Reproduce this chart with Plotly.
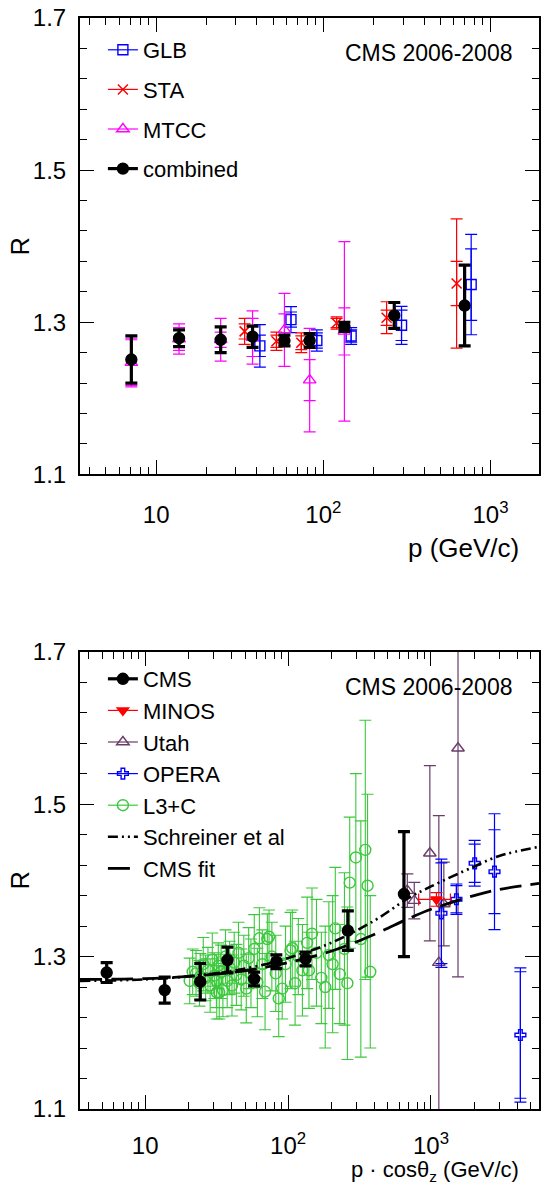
import numpy as np
import plotly.graph_objects as go

# ---------------- top panel data (R vs p) ----------------
comb_p = [7.1, 13.7, 24.3, 37.7, 58.5, 82.8, 133.6, 265.6, 700]
comb_R = [1.251, 1.279, 1.277, 1.281, 1.276, 1.276, 1.294, 1.309, 1.322]
comb_err = [0.031, 0.011, 0.017, 0.014, 0.007, 0.009, 0.006, 0.017, 0.053]

sta_p = [33.8, 52.4, 73.8, 120, 239, 627]
sta_R = [1.288, 1.275, 1.273, 1.299, 1.306, 1.351]
sta_err_tot = [0.017, 0.012, 0.013, 0.008, 0.021, 0.085]
sta_err_stat = [0.010, 0.008, 0.009, 0.006, 0.010, 0.029]

glb_p = [41.7, 64.0, 91.4, 146.6, 293.5, 766]
glb_R = [1.269, 1.3035, 1.276, 1.282, 1.296, 1.3496]
glb_err_tot = [0.028, 0.017, 0.014, 0.011, 0.025, 0.066]
glb_err_stat = [0.014, 0.010, 0.010, 0.008, 0.020, 0.047]

mtcc_p = [7.1, 13.7, 24.3, 37.7, 58.5, 82.8, 133.6]
mtcc_R = [1.247, 1.278, 1.277, 1.280, 1.290, 1.224, 1.288]
mtcc_err_tot = [0.032, 0.020, 0.028, 0.035, 0.048, 0.068, 0.118]
mtcc_err_stat = [0.030, 0.015, 0.010, 0.025, 0.021, 0.027, 0.031]

# ---------------- bottom panel data (R vs p cos theta) ----------------
cms_x = [5.38, 13.7, 24.3, 37.7, 57.9, 82.8, 132.6, 262, 647]
cms_R = [1.279, 1.256, 1.267, 1.2955, 1.2706, 1.2933, 1.2969, 1.334, 1.382]
cms_err = [0.013, 0.017, 0.024, 0.017, 0.009, 0.009, 0.009, 0.026, 0.082]

minos_x = [1092]
minos_R = [1.375]
minos_xerr_hi = [276]
minos_xerr_lo = [272]
minos_err = [0.009]

utah_x = [683, 764, 982, 1135, 1230, 1546]
utah_R = [1.3865, 1.3734, 1.4356, 1.292, 1.369, 1.5733]
utah_err = [0.022, 0.024, 0.115, 0.193, 0.055, 0.300]

opera_x = [1183, 1507, 2021, 2783, 4223]
opera_R = [1.3568, 1.3752, 1.4224, 1.4114, 1.1971]
opera_err_tot = [0.071, 0.020, 0.030, 0.076, 0.088]
opera_err_stat = [0.066, 0.018, 0.025, 0.055, 0.083]

l3c_x = [20.5, 21.5, 22.7, 24.0, 24.3, 25.5, 26.5, 27.5, 28.5, 29.5, 30.5, 31.5, 31.7,
         32.5, 33.0, 34.0, 35.0, 36.5, 37.5, 39.0, 40.5, 42.0, 43.5, 45.0, 47.0, 49.0,
         51.0, 53.0, 55.0, 58.0, 61.0, 63.0, 66.0, 69.0, 71.6, 73.6, 77.0, 82.0, 86.0,
         91.0, 96.0, 104, 107, 112, 118, 126, 136, 140, 147, 158, 171, 182, 193, 205,
         214, 230, 248, 260, 270, 298, 323, 347, 360, 376]
l3c_R = [1.268, 1.280, 1.278, 1.265, 1.274, 1.290, 1.272, 1.282, 1.262, 1.296, 1.275, 1.268, 1.253,
         1.288, 1.253, 1.280, 1.256, 1.300, 1.268, 1.285, 1.262, 1.292, 1.276, 1.305, 1.270, 1.288,
         1.258, 1.298, 1.278, 1.310, 1.266, 1.324, 1.290, 1.254, 1.323, 1.326, 1.300, 1.278, 1.245,
         1.258, 1.290, 1.308, 1.311, 1.265, 1.300, 1.282, 1.318, 1.282, 1.330, 1.305, 1.272, 1.260,
         1.302, 1.290, 1.337, 1.277, 1.310, 1.265, 1.397, 1.430, 1.323, 1.440, 1.393, 1.280]
l3c_err = [0.030, 0.030, 0.030, 0.030, 0.030, 0.035, 0.030, 0.030, 0.035, 0.035, 0.030, 0.035, 0.035,
           0.030, 0.035, 0.035, 0.035, 0.035, 0.035, 0.035, 0.040, 0.040, 0.040, 0.040, 0.040, 0.040,
           0.045, 0.040, 0.045, 0.045, 0.045, 0.040, 0.045, 0.050, 0.033, 0.035, 0.045, 0.050, 0.050,
           0.040, 0.050, 0.050, 0.050, 0.055, 0.050, 0.060, 0.060, 0.050, 0.060, 0.070, 0.060, 0.080,
           0.070, 0.090, 0.080, 0.065, 0.100, 0.100, 0.086, 0.110, 0.155, 0.170, 0.120, 0.100]

fit_x = [3.5, 10, 20, 40, 70, 100, 200, 400, 700, 1000, 2000, 3000, 5700]
fit_R = [1.270, 1.271, 1.274, 1.279, 1.286, 1.292, 1.307, 1.329, 1.350, 1.362, 1.380, 1.388, 1.396]
schr_R = [1.268, 1.270, 1.274, 1.281, 1.290, 1.298, 1.318, 1.347, 1.377, 1.392, 1.418, 1.432, 1.444]

# ---------------- styling ----------------
FONT = "Liberation Sans, Arial, Helvetica, sans-serif"
BLUE = "#0000ff"
RED = "#ff0000"
MAG = "#ff00ff"
PURP = "rgb(105,60,105)"
GREEN = "rgb(60,200,60)"

fig = go.Figure()


def err_trace(x, y, e, color, symbol, size, xa, ya, thick=1.2, cap=6, ex=None, exm=None, mlw=1.4):
    mk = dict(symbol=symbol, size=size, color=color, line=dict(color=color, width=mlw))
    t = go.Scatter(x=x, y=y, mode="markers", marker=mk, xaxis=xa, yaxis=ya, showlegend=False,
                   error_y=dict(type="data", array=e, visible=True, color=color,
                                thickness=thick, width=cap),
                   hoverinfo="skip")
    if ex is not None:
        t.error_x = dict(type="data", array=ex, arrayminus=exm, visible=True, color=color,
                         thickness=thick, width=cap)
    return t


def cap_trace(x, y, e, color, xa, ya, thick=1.2, cap=6):
    return go.Scatter(x=x, y=y, mode="markers",
                      marker=dict(size=1, color="rgba(0,0,0,0)"), xaxis=xa, yaxis=ya,
                      showlegend=False, hoverinfo="skip",
                      error_y=dict(type="data", array=e, visible=True, color=color,
                                   thickness=thick, width=cap))


def legend_entry(name, color, symbol, size, legend, rank, lw=1.2, group=None):
    mk = dict(symbol=symbol, size=size, color=color, line=dict(color=color, width=1.4))
    return go.Scatter(x=[None], y=[None], mode="lines+markers",
                      marker=mk, line=dict(color=color, width=lw), name=name,
                      legend=legend, legendrank=rank, legendgroup=group,
                      xaxis="x", yaxis="y")


# ---- top panel traces ----
fig.add_trace(err_trace(glb_p, glb_R, glb_err_tot, BLUE, "square-open", 10, "x", "y"))
fig.add_trace(cap_trace(glb_p, glb_R, glb_err_stat, BLUE, "x", "y"))
fig.add_trace(err_trace(sta_p, sta_R, sta_err_tot, RED, "x-thin", 10, "x", "y", mlw=1.6))
fig.add_trace(cap_trace(sta_p, sta_R, sta_err_stat, RED, "x", "y"))
fig.add_trace(err_trace(mtcc_p, mtcc_R, mtcc_err_tot, MAG, "triangle-up-open", 11, "x", "y"))
fig.add_trace(cap_trace(mtcc_p, mtcc_R, mtcc_err_stat, MAG, "x", "y"))
fig.add_trace(err_trace(comb_p, comb_R, comb_err, "black", "circle", 11, "x", "y",
                        thick=3.2, cap=6))

# ---- bottom panel traces ----
fig.add_trace(err_trace(l3c_x, l3c_R, l3c_err, GREEN, "circle-open", 11, "x2", "y2", thick=1.1))
fig.add_trace(err_trace(utah_x, utah_R, utah_err, PURP, "triangle-up-open", 11, "x2", "y2"))
fig.add_trace(err_trace(opera_x, opera_R, opera_err_tot, BLUE, "cross-open", 9, "x2", "y2"))
fig.add_trace(cap_trace(opera_x, opera_R, opera_err_stat, BLUE, "x2", "y2"))
fig.add_trace(err_trace(minos_x, minos_R, minos_err, RED, "triangle-down", 10, "x2", "y2",
                        ex=minos_xerr_hi, exm=minos_xerr_lo))
fig.add_trace(go.Scatter(x=fit_x, y=schr_R, mode="lines", line=dict(color="black", width=2.6,
                         dash="10px,4px,2px,4px,2px,4px", shape="spline"),
                         xaxis="x2", yaxis="y2", name="Schreiner et al", legend="legend2",
                         legendrank=6, hoverinfo="skip"))
fig.add_trace(go.Scatter(x=fit_x, y=fit_R, mode="lines", line=dict(color="black", width=2.8,
                         dash="22px,9px", shape="spline"),
                         xaxis="x2", yaxis="y2", name="CMS fit", legend="legend2",
                         legendrank=7, hoverinfo="skip"))
fig.add_trace(err_trace(cms_x, cms_R, cms_err, "black", "circle", 11, "x2", "y2",
                        thick=3.2, cap=6))

# ---- legend entries ----
fig.add_trace(legend_entry("GLB", BLUE, "square-open", 10, "legend", 1, group="a"))
fig.add_trace(legend_entry("STA", RED, "x-thin", 10, "legend", 2, group="b"))
fig.add_trace(legend_entry("MTCC", MAG, "triangle-up-open", 11, "legend", 3, group="c"))
fig.add_trace(legend_entry("combined", "black", "circle", 11, "legend", 4, lw=3.2, group="d"))
fig.add_trace(legend_entry("CMS", "black", "circle", 11, "legend2", 1, lw=3.2))
fig.add_trace(legend_entry("MINOS", RED, "triangle-down", 10, "legend2", 2))
fig.add_trace(legend_entry("Utah", PURP, "triangle-up-open", 11, "legend2", 3))
fig.add_trace(legend_entry("OPERA", BLUE, "cross-open", 9, "legend2", 4))
fig.add_trace(legend_entry("L3+C", GREEN, "circle-open", 11, "legend2", 5))

# ---------------- axes ----------------
L, R_, T, B = 80, 2, 18, 76
W, H = 543, 1185
PH = H - T - B
PW = W - L - R_


def px(xp):
    return (xp - L) / PW


def py(yp):
    return (H - B - yp) / PH


def xaxis_cfg(xmax, anchor, standoff):
    decades = [1, 10, 100, 1000]
    minor_vals = [m * d for d in decades for m in range(2, 10) if 3.5 < m * d < xmax]
    return dict(type="log", range=[np.log10(3.5), np.log10(xmax)], anchor=anchor,
                tickvals=[10, 100, 1000], ticktext=["10", "10<sup>2</sup>", "10<sup>3</sup>"],
                ticks="inside", ticklen=14, tickwidth=1.2, tickcolor="black",
                showline=True, linewidth=2, linecolor="black", mirror="ticks",
                showgrid=False, zeroline=False, ticklabelstandoff=standoff,
                tickfont=dict(size=24, color="black", family=FONT),
                minor=dict(tickvals=minor_vals, ticks="inside", ticklen=7, tickwidth=1.2,
                           tickcolor="black", showgrid=False))


def yaxis_cfg(domain, anchor):
    minor_vals = [round(1.1 + 0.04 * i, 3) for i in range(16)]
    return dict(range=[1.1, 1.7], domain=domain, anchor=anchor,
                tickvals=[1.1, 1.3, 1.5, 1.7], ticktext=["1.1", "1.3", "1.5", "1.7"],
                ticks="inside", ticklen=14, tickwidth=1.2, tickcolor="black",
                showline=True, linewidth=2, linecolor="black", mirror="ticks",
                showgrid=False, zeroline=False, ticklabelstandoff=7,
                tickfont=dict(size=24, color="black", family=FONT),
                minor=dict(tickvals=minor_vals, ticks="inside", ticklen=7, tickwidth=1.2,
                           tickcolor="black", showgrid=False))


top_dom = [py(474.4), 1.0]
bot_dom = [0.0, py(651.7)]

fig.update_layout(
    width=W, height=H,
    margin=dict(l=L, r=R_, t=T, b=B),
    paper_bgcolor="white", plot_bgcolor="white",
    font=dict(family=FONT, color="black"),
    xaxis=xaxis_cfg(1950, "y", 18),
    yaxis=yaxis_cfg(top_dom, "x"),
    xaxis2=xaxis_cfg(5700, "y2", 14),
    yaxis2=yaxis_cfg(bot_dom, "x2"),
    legend=dict(x=px(103), y=py(29), xanchor="left", yanchor="top", bgcolor="rgba(0,0,0,0)",
                font=dict(size=22, family=FONT), itemwidth=30, tracegroupgap=8,
                traceorder="grouped"),
    legend2=dict(x=px(103), y=py(658), xanchor="left", yanchor="top", bgcolor="rgba(0,0,0,0)",
                 font=dict(size=22, family=FONT), itemwidth=30, tracegroupgap=0,
                 traceorder="normal"),
    showlegend=True,
)

ann = dict(xref="paper", yref="paper", showarrow=False)
fig.add_annotation(text="CMS 2006-2008", x=px(517), y=py(53), xanchor="right", yanchor="middle",
                   font=dict(family=FONT, size=23, color="black"), **ann)
fig.add_annotation(text="CMS 2006-2008", x=px(517), y=py(687), xanchor="right", yanchor="middle",
                   font=dict(family=FONT, size=23, color="black"), **ann)
fig.add_annotation(text="R", x=px(20), y=py(246), xanchor="center", yanchor="middle",
                   textangle=-90, font=dict(family=FONT, size=25, color="black"), **ann)
fig.add_annotation(text="R", x=px(20), y=py(880), xanchor="center", yanchor="middle",
                   textangle=-90, font=dict(family=FONT, size=25, color="black"), **ann)
fig.add_annotation(text="p (GeV/c)", x=px(523), y=py(548), xanchor="right", yanchor="middle",
                   font=dict(family=FONT, size=26, color="black"), **ann)
fig.add_annotation(text="p \u00b7 cos\u03b8<sub>z</sub> (GeV/c)", x=px(523), y=py(1171),
                   xanchor="right", yanchor="middle",
                   font=dict(family=FONT, size=22, color="black"), **ann)

fig.write_html("out.html", config={"displayModeBar": False},
               post_script="document.body.style.margin='0';"
                           "document.body.style.overflow='hidden';")
